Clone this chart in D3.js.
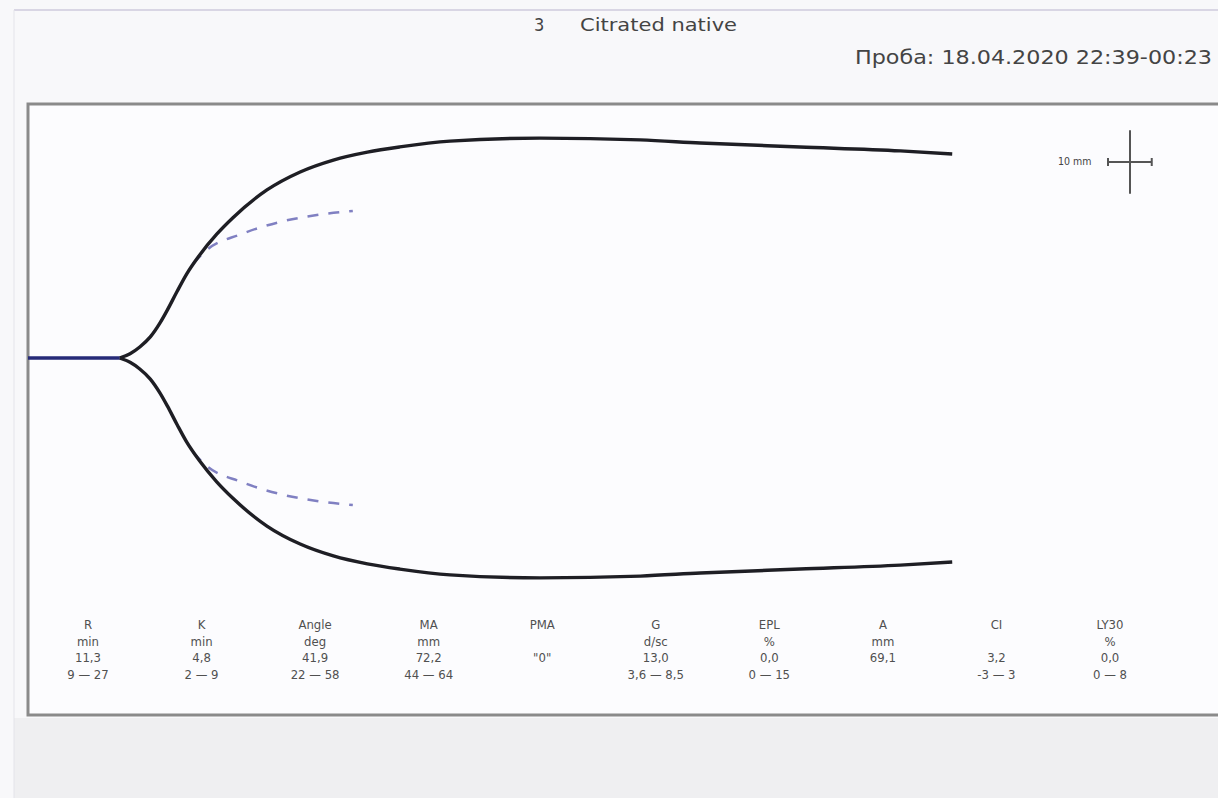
<!DOCTYPE html>
<html>
<head>
<meta charset="utf-8">
<script src="https://cdn.jsdelivr.net/npm/d3@7"></script>
<style>
  body { margin: 0; background: #f7f7f9; }
  svg { display: block; font-family: "DejaVu Sans Condensed", "DejaVu Sans", sans-serif; }
</style>
</head>
<body>
<div id="chart"></div>
<script>
// TEG trace, time in minutes, amplitude in mm (full width)
const timeMin = [0, 11.3, 12.6, 13.8, 15.1, 16.3, 17.2, 18.4, 19.6, 21.2, 23.3, 25.3, 29.5, 33.6, 37.7, 41.9, 45.9, 52.1, 63.2, 75.6, 83.0, 95.3, 107.7, 114.1]
const amplitudeMm = [0, 0, 1.4, 3.6, 6.9, 11.5, 15.7, 21.8, 27.6, 33.8, 40.6, 46.0, 55.1, 61.0, 64.9, 67.5, 69.2, 71.1, 72.1, 71.5, 70.5, 69.2, 67.9, 66.9]

// dashed projection curve
const projTimeMin = [20.4, 22.1, 26.2, 31.1, 36.0, 40.1]
const projAmplitudeMm = [31.0, 35.5, 40.5, 44.6, 47.0, 48.2]

const paramNames = ['R', 'K', 'Angle', 'MA', 'PMA', 'G', 'EPL', 'A', 'CI', 'LY30']
const paramUnits = ['min', 'min', 'deg', 'mm', '', 'd/sc', '%', 'mm', '', '%']
const paramValues = ['11,3', '4,8', '41,9', '72,2', '"0"', '13,0', '0,0', '69,1', '3,2', '0,0']
const paramRanges = ['9 — 27', '2 — 9', '22 — 58', '44 — 64', '', '3,6 — 8,5', '0 — 15', '', '-3 — 3', '0 — 8']

const sampleNo = '3'
const sampleType = 'Citrated native'
const sampleInfo = 'Проба: 18.04.2020 22:39-00:23'

let W = 1218, H = 798
let frame = { left: 28, top: 104, right: 1240, bottom: 715 }
let baseY = 358

let x = d3.scaleLinear().domain([0, 150]).range([frame.left, frame.left + 150 * 8.1])
let y = d3.scaleLinear().domain([-40, 40]).range([baseY + 40 * 6.1, baseY - 40 * 6.1])

let svg = d3.select('#chart').append('svg')
    .attr('width', W)
    .attr('height', H)

// background
svg.append('rect').attr('x', 0).attr('y', 0).attr('width', W).attr('height', H).attr('fill', '#f8f8fa')
svg.append('rect').attr('x', 14).attr('y', 718).attr('width', W).attr('height', 80).attr('fill', '#efeff1')
svg.append('line').attr('x1', 14).attr('x2', W).attr('y1', 10).attr('y2', 10).attr('stroke', '#d9d6e4').attr('stroke-width', 2)
svg.append('line').attr('x1', 14).attr('x2', 14).attr('y1', 10).attr('y2', H).attr('stroke', '#e4e4ea').attr('stroke-width', 1)

// header
svg.append('text').attr('x', 534).attr('y', 31).attr('font-size', 18).attr('fill', '#444').text(sampleNo)
svg.append('text').attr('x', 580).attr('y', 31).attr('font-size', 18).attr('fill', '#444')
    .attr('textLength', 157).attr('lengthAdjust', 'spacingAndGlyphs').text(sampleType)
svg.append('text').attr('x', 855).attr('y', 64).attr('font-size', 19).attr('fill', '#444')
    .attr('textLength', 357).attr('lengthAdjust', 'spacingAndGlyphs').text(sampleInfo)

// frame
svg.append('rect')
    .attr('x', frame.left).attr('y', frame.top)
    .attr('width', frame.right - frame.left).attr('height', frame.bottom - frame.top)
    .attr('fill', '#fcfcfe').attr('stroke', '#8a8a8a').attr('stroke-width', 3)

let g = svg.append('g')

let pts = timeMin.map((t, i) => ({ t: t, a: amplitudeMm[i] }))
let proj = projTimeMin.map((t, i) => ({ t: t, a: projAmplitudeMm[i] }))

let upper = d3.line().x(d => x(d.t)).y(d => y(d.a / 2)).curve(d3.curveMonotoneX)
let lower = d3.line().x(d => x(d.t)).y(d => y(-d.a / 2)).curve(d3.curveMonotoneX)

// dashed projections
for (const fn of [upper, lower]) {
    g.append('path').datum(proj).attr('d', fn)
        .attr('fill', 'none').attr('stroke', '#8080c2').attr('stroke-width', 2.5)
        .attr('stroke-dasharray', '11,10')
}

let trace = pts.slice(1)
for (const fn of [upper, lower]) {
    g.append('path').datum(trace).attr('d', fn)
        .attr('fill', 'none').attr('stroke', '#1e1e24').attr('stroke-width', 3.4)
}
// flat part before R
g.append('path').datum(pts.slice(0, 2)).attr('d', upper)
    .attr('fill', 'none').attr('stroke', '#262a78').attr('stroke-width', 3.4)

// scale marker
let sm = svg.append('g').attr('stroke', '#555').attr('stroke-width', 2)
let cx = 1130, cy = 162
let hx0 = 1108, hx1 = hx0 + x(5.4) - x(0)
sm.append('line').attr('x1', cx).attr('x2', cx).attr('y1', cy + y(5.2) - baseY).attr('y2', cy + y(-5.2) - baseY)
sm.append('line').attr('x1', hx0).attr('x2', hx1).attr('y1', cy).attr('y2', cy)
sm.append('line').attr('x1', hx0).attr('x2', hx0).attr('y1', cy - 4).attr('y2', cy + 4)
sm.append('line').attr('x1', hx1).attr('x2', hx1).attr('y1', cy - 4).attr('y2', cy + 4)
svg.append('text').attr('x', 1058).attr('y', 165).attr('font-size', 10.5).attr('fill', '#444').text('10 mm')

// parameter table
let col = d3.scalePoint().domain(paramNames).range([88, 1110])
let rows = [paramNames, paramUnits, paramValues, paramRanges]
rows.forEach((row, r) => {
    svg.append('g').selectAll('text').data(row).enter().append('text')
        .attr('x', (d, i) => col(paramNames[i]))
        .attr('y', 629 + r * 16.5)
        .attr('text-anchor', 'middle')
        .attr('font-size', 13)
        .attr('fill', '#505050')
        .text(d => d)
})
</script>
</body>
</html>
